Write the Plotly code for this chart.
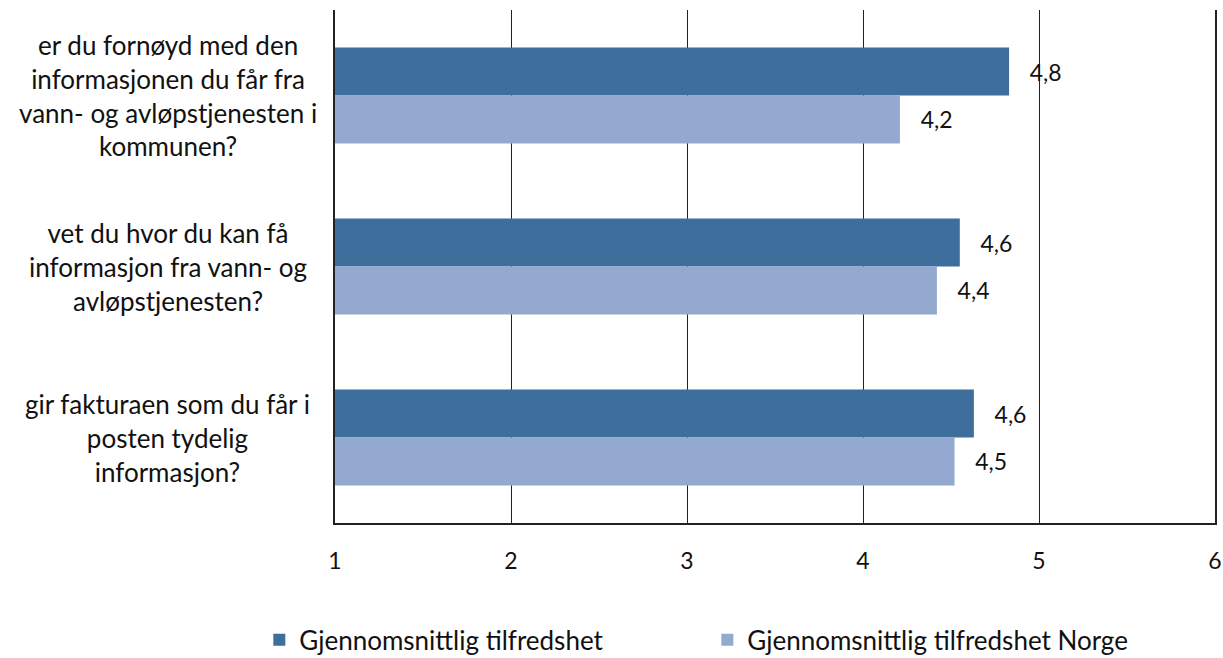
import plotly.graph_objects as go

categories = [
    "er du fornøyd med den<br>informasjonen du får fra<br>vann- og avløpstjenesten i<br>kommunen?",
    "vet du hvor du kan få<br>informasjon fra vann- og<br>avløpstjenesten?",
    "gir fakturaen som du får i<br>posten tydelig<br>informasjon?",
]
series_names = ["Gjennomsnittlig tilfredshet", "Gjennomsnittlig tilfredshet Norge"]
values_local = [4.83, 4.55, 4.63]
values_norge = [4.21, 4.42, 4.52]
labels_local = ["4,8", "4,6", "4,6"]
labels_norge = ["4,2", "4,4", "4,5"]
x_ticks = [1, 2, 3, 4, 5, 6]

FONT = "Lato"
pad = "\u00a0\u00a0\u00a0"

fig = go.Figure()
fig.add_trace(go.Bar(
    y=categories, x=[v - 1 for v in values_local], base=1, orientation="h",
    name=series_names[0], marker=dict(color="#3D6E9C", line=dict(width=0)),
    text=[pad + t for t in labels_local], textposition="outside",
    textfont=dict(family=FONT, size=23, color="#111"), cliponaxis=False,
))
fig.add_trace(go.Bar(
    y=categories, x=[v - 1 for v in values_norge], base=1, orientation="h",
    name=series_names[1], marker=dict(color="#94A9CF", line=dict(width=0)),
    text=[pad + t for t in labels_norge], textposition="outside",
    textfont=dict(family=FONT, size=23, color="#111"), cliponaxis=False,
))

for c in categories:
    fig.add_annotation(
        x=-0.19, xref="paper", y=c, yref="y", text=c, showarrow=False,
        xanchor="center", yanchor="middle", align="center",
        font=dict(family=FONT, size=26, color="#111"),
    )

fig.update_layout(
    width=1223, height=658,
    margin=dict(l=335, r=8, t=10, b=135, autoexpand=False),
    paper_bgcolor="white", plot_bgcolor="white",
    barmode="group", bargap=0.44, bargroupgap=0.0,
    font=dict(family=FONT, size=22, color="#111"),
    showlegend=True,
    legend=dict(
        orientation="h", x=-0.086, xanchor="left", y=-0.228, yanchor="middle",
        font=dict(family=FONT, size=26, color="#111"),
        entrywidth=403, entrywidthmode="pixels", traceorder="normal",
    ),
    xaxis=dict(
        range=[1, 6], tickvals=x_ticks, ticktext=[str(t) for t in x_ticks],
        showgrid=True, gridcolor="#222", gridwidth=1.2,
        showline=True, linecolor="#222", linewidth=1.5,
        zeroline=False, ticks="", ticklabelstandoff=17,
        tickfont=dict(family=FONT, size=23, color="#111"),
    ),
    yaxis=dict(
        autorange="reversed", showticklabels=False, showgrid=False,
        showline=True, linecolor="#222", linewidth=1.5, mirror=True,
        zeroline=False, ticks="",
    ),
)

fig.write_html(
    "out.html",
    config={"displayModeBar": False},
    post_script="document.body.style.margin='0';document.body.style.overflow='hidden';",
)
